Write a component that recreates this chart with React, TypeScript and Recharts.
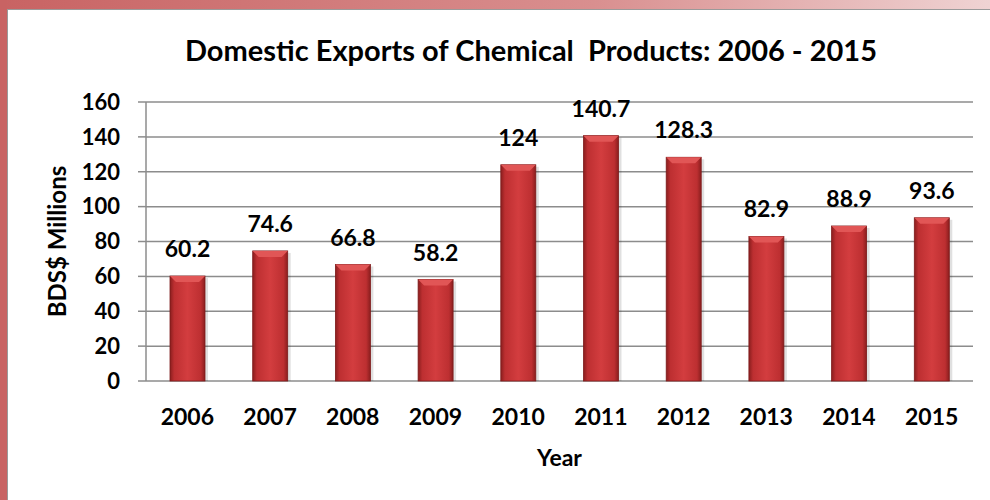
import { BarChart, Bar, XAxis, YAxis, CartesianGrid, LabelList, Label } from "recharts";

// years on the x axis
const YEARS = ["2006", "2007", "2008", "2009", "2010", "2011", "2012", "2013", "2014", "2015"];

// domestic exports, BDS$ millions
const EXPORTS = [60.2, 74.6, 66.8, 58.2, 124, 140.7, 128.3, 82.9, 88.9, 93.6];

const Y_TICKS = [0, 20, 40, 60, 80, 100, 120, 140, 160];

// boundaries between categories, for the small tick marks under the axis
const EDGE_TICKS = [0, 1, 2, 3, 4, 5, 6, 7, 8, 9, 10];

const data = YEARS.map((year, i) => ({ year, value: EXPORTS[i] }));

const FONT = "Lato, 'Open Sans', sans-serif";
const AXIS_GREY = "#8c8c8c";

// bar with darker sides and a lighter bevel on top
const BevelBar = (props: any) => {
  const { x, y, width, height } = props;
  if (!height || height <= 0) return null;
  const b = Math.min(6, height / 2);
  return (
    <g>
      <rect x={x + 3} y={y + 2} width={width} height={height - 2} fill="rgba(0,0,0,0.12)" />
      <rect x={x} y={y} width={width} height={height} fill="url(#barFill)" stroke="#7d1a1a" strokeWidth={0.8} />
      <polygon
        points={`${x},${y} ${x + width},${y} ${x + width - b},${y + b} ${x + b},${y + b}`}
        fill="#e15656"
      />
    </g>
  );
};

export default function App() {
  return (
    <div
      style={{
        position: "absolute",
        left: 0,
        top: 0,
        width: 990,
        height: 500,
        background: "#fff",
        overflow: "hidden",
        fontFamily: FONT,
      }}
    >
      {/* frame: red strip on the left, fading strip on top */}
      <div
        style={{
          position: "absolute",
          left: 0,
          top: 0,
          width: 990,
          height: 9,
          background: "linear-gradient(to right, #c86363, #d98f8f 60%, #efd3d3)",
        }}
      />
      <div style={{ position: "absolute", left: 0, top: 0, width: 7, height: 500, background: "#c86363" }} />
      <div
        style={{
          position: "absolute",
          left: 7,
          top: 9,
          width: 990,
          height: 500,
          borderTop: "1px solid #9a9a9a",
          borderLeft: "1px solid #9a9a9a",
        }}
      />

      <div
        style={{
          position: "absolute",
          left: 0,
          width: 1062,
          top: 32,
          textAlign: "center",
          fontSize: 29,
          fontWeight: 700,
          color: "#000",
          whiteSpace: "pre",
        }}
      >
        Domestic Exports of Chemical  Products: 2006 - 2015
      </div>

      <div style={{ position: "absolute", left: 0, top: 0 }}>
        <BarChart width={990} height={500} data={data} margin={{ top: 102, right: 17, bottom: 29, left: 46 }}>
          <defs>
            <linearGradient id="barFill" x1="0" y1="0" x2="1" y2="0">
              <stop offset="0%" stopColor="#8a1e1e" />
              <stop offset="12%" stopColor="#bd2f31" />
              <stop offset="50%" stopColor="#d33d3f" />
              <stop offset="88%" stopColor="#bd2f31" />
              <stop offset="100%" stopColor="#8a1e1e" />
            </linearGradient>
          </defs>
          <CartesianGrid xAxisId="cat" vertical={false} stroke={AXIS_GREY} strokeWidth={1.5} />
          <XAxis
            xAxisId="edge"
            type="number"
            domain={[0, 10]}
            ticks={EDGE_TICKS}
            tick={false}
            tickSize={8}
            height={0}
            stroke={AXIS_GREY}
            strokeWidth={1.5}
            allowDataOverflow
          />
          <XAxis
            xAxisId="cat"
            dataKey="year"
            axisLine={false}
            tickLine={false}
            tickSize={0}
            tickMargin={28}
            height={90}
            tick={{ fontSize: 23, fontWeight: 700, fill: "#000", fontFamily: FONT }}
          >
            <Label
              value="Year"
              position="insideBottom"
              offset={5}
              style={{ fontSize: 23, fontWeight: 700, fill: "#000", fontFamily: FONT }}
            />
          </XAxis>
          <YAxis
            domain={[0, 160]}
            ticks={Y_TICKS}
            width={100}
            tickSize={8}
            tickMargin={18}
            stroke={AXIS_GREY}
            strokeWidth={1.5}
            tick={{ fontSize: 22, fontWeight: 700, fill: "#000", fontFamily: FONT }}
          >
            <Label
              value="BDS$ Millions"
              angle={-90}
              position="insideLeft"
              offset={11}
              style={{ textAnchor: "middle", fontSize: 24, fontWeight: 700, fill: "#000", fontFamily: FONT }}
            />
          </YAxis>
          <Bar xAxisId="cat" dataKey="value" barSize={35} shape={<BevelBar />} isAnimationActive={false}>
            <LabelList
              dataKey="value"
              position="top"
              offset={19}
              style={{ fontSize: 23, fontWeight: 700, fill: "#000", fontFamily: FONT }}
            />
          </Bar>
        </BarChart>
      </div>
    </div>
  );
}
